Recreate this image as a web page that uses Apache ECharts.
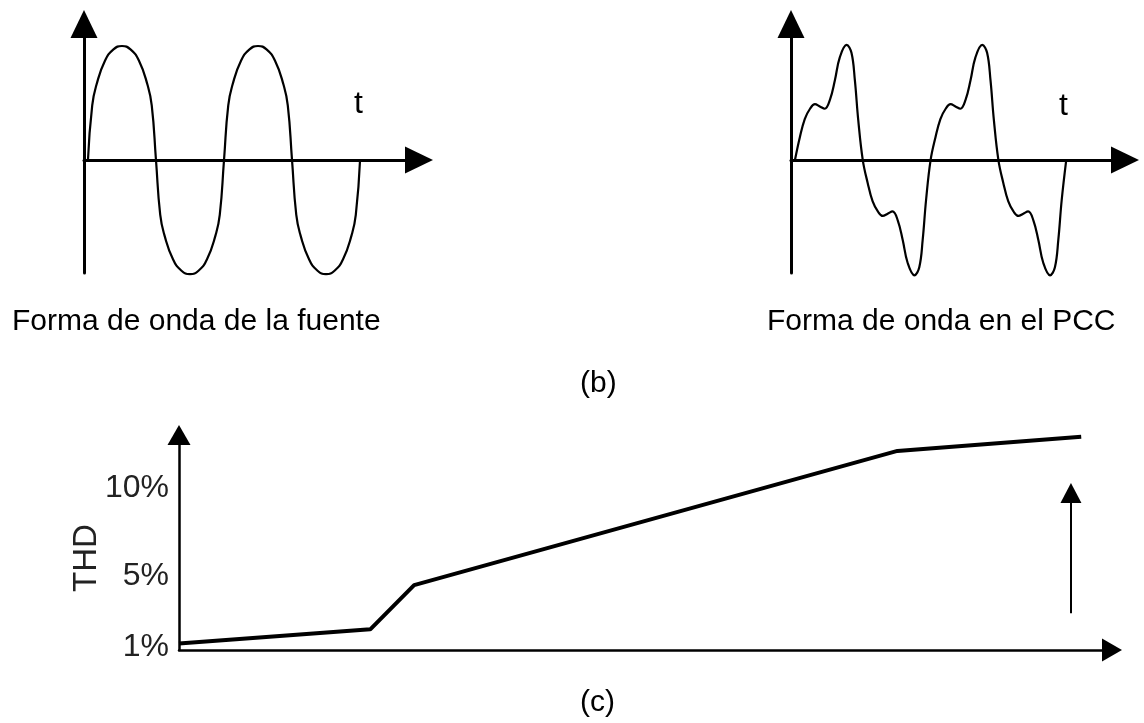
<!DOCTYPE html>
<html>
<head>
<meta charset="utf-8">
<title>Forma de onda y THD</title>
<script src="https://cdn.jsdelivr.net/npm/echarts@6/dist/echarts.min.js"></script>
<style>
  html, body { margin: 0; padding: 0; background: #fff; }
  #chart { width: 1144px; height: 723px; }
</style>
</head>
<body>
<div id="chart"></div>
<script>
// source waveform (deg, per-unit amplitude) - rounded lobes as drawn
const sineDeg = [0, 11.25, 22.5, 45, 67.5, 90, 112.5, 135, 157.5, 168.75,
  180, 191.25, 202.5, 225, 247.5, 270, 292.5, 315, 337.5, 348.75,
  360, 371.25, 382.5, 405, 427.5, 450, 472.5, 495, 517.5, 528.75,
  540, 551.25, 562.5, 585, 607.5, 630, 652.5, 675, 697.5, 708.75, 720];
const sineVal = [0, 0.48, 0.66, 0.87, 0.97, 1, 0.97, 0.87, 0.66, 0.48,
  0, -0.48, -0.66, -0.87, -0.97, -1, -0.97, -0.87, -0.66, -0.48,
  0, 0.48, 0.66, 0.87, 0.97, 1, 0.97, 0.87, 0.66, 0.48,
  0, -0.48, -0.66, -0.87, -0.97, -1, -0.97, -0.87, -0.66, -0.48, 0];

// distorted waveform at the PCC
const pccDeg = [0, 13, 26, 40, 53, 66, 79, 93, 106, 119, 137, 150, 159, 168,
  180, 193, 206, 220, 233, 246, 259, 273, 286, 299, 317, 330, 339, 348,
  360, 373, 386, 400, 413, 426, 439, 453, 466, 479, 497, 510, 519, 528,
  540, 553, 566, 580, 593, 606, 619, 633, 646, 659, 677, 690, 699, 708, 720];
const pccVal = [0, 0.20, 0.36, 0.45, 0.49, 0.47, 0.45, 0.53, 0.70, 0.90, 1.01, 0.94, 0.70, 0.35,
  0, -0.20, -0.36, -0.45, -0.49, -0.47, -0.45, -0.53, -0.70, -0.90, -1.01, -0.94, -0.70, -0.35,
  0, 0.20, 0.36, 0.45, 0.49, 0.47, 0.45, 0.53, 0.70, 0.90, 1.01, 0.94, 0.70, 0.35,
  0, -0.20, -0.36, -0.45, -0.49, -0.47, -0.45, -0.53, -0.70, -0.90, -1.01, -0.94, -0.70, -0.35, 0];

// THD curve (c)
const thdX = [0, 20.5, 25.2, 77, 96.7];
const thdVal = [1.2, 2.0, 4.5, 12.1, 12.9];
const thdTicks = [1, 5, 10];
const riseArrowX = 95.6;
const riseArrowFrom = 2.91;
const riseArrowTo = 9.72;

const FONT = "'Liberation Sans', Arial, sans-serif";

function zip(xs, ys) {
  return xs.map((x, i) => [x, ys[i]]);
}

function waveAxes(gridIndex) {
  const line = {
    show: true,
    symbol: ["none", "triangle"],
    symbolSize: [27, 28],
    lineStyle: { color: "#000", width: 3 }
  };
  return {
    x: {
      type: "value", gridIndex, min: -10.5, max: 876,
      axisLine: Object.assign({ onZero: true }, line),
      axisTick: { show: false }, axisLabel: { show: false }, splitLine: { show: false }
    },
    y: {
      type: "value", gridIndex, min: -0.99, max: 1.193,
      axisLine: Object.assign({ onZero: false }, line),
      axisTick: { show: false }, axisLabel: { show: false }, splitLine: { show: false }
    }
  };
}

function label(text, left, top, size) {
  return {
    text, left, top, padding: 0,
    textStyle: { fontFamily: FONT, fontSize: size || 30, fontWeight: "normal", color: "#000" }
  };
}

const chart = echarts.init(document.getElementById("chart"), null, { renderer: "canvas" });
const a0 = waveAxes(0), a1 = waveAxes(1);

const option = {
  backgroundColor: "#fff",
  animation: false,
  title: [
    label("t", 354, 88, 32),
    label("t", 1059, 90, 32),
    label("Forma de onda de la fuente", 12, 307),
    label("Forma de onda en el PCC", 767, 307),
    label("(b)", 580, 369),
    label("(c)", 580, 688)
  ],
  grid: [
    { left: 84, top: 24, width: 335, height: 249 },
    { left: 791, top: 24, width: 334, height: 249 },
    { left: 179, top: 435, width: 933, height: 215 }
  ],
  xAxis: [
    a0.x, a1.x,
    {
      type: "value", gridIndex: 2, min: 0, max: 100,
      axisLine: { show: true, onZero: false, symbol: ["none", "triangle"], symbolSize: [23, 20],
        lineStyle: { color: "#000", width: 2.5 } },
      axisTick: { show: false }, axisLabel: { show: false }, splitLine: { show: false }
    }
  ],
  yAxis: [
    a0.y, a1.y,
    {
      type: "value", gridIndex: 2, min: 0.83, max: 13.0,
      name: "THD", nameLocation: "middle", nameRotate: 90, nameGap: 76,
      nameMoveOverlap: false,
      nameTextStyle: { fontFamily: FONT, fontSize: 33, color: "#222", padding: [0, 31, 0, 0] },
      axisLine: { show: true, onZero: false, symbol: ["none", "triangle"], symbolSize: [23, 20],
        lineStyle: { color: "#000", width: 2.5 } },
      axisTick: { show: false },
      axisLabel: {
        customValues: thdTicks, margin: 10,
        formatter: "{value}%",
        fontFamily: FONT, fontSize: 32, color: "#222"
      },
      splitLine: { show: false }
    }
  ],
  series: [
    {
      type: "line", xAxisIndex: 0, yAxisIndex: 0, clip: false,
      data: zip(sineDeg, sineVal), smooth: 0.5, showSymbol: false,
      lineStyle: { color: "#000", width: 2.2 }
    },
    {
      type: "line", xAxisIndex: 1, yAxisIndex: 1, clip: false,
      data: zip(pccDeg, pccVal), smooth: 0.4, showSymbol: false,
      lineStyle: { color: "#000", width: 2.2 }
    },
    {
      type: "line", xAxisIndex: 2, yAxisIndex: 2,
      data: zip(thdX, thdVal), showSymbol: false,
      lineStyle: { color: "#000", width: 4 },
      markLine: {
        silent: true,
        symbol: ["none", "triangle"],
        symbolSize: [21, 20],
        label: { show: false },
        lineStyle: { color: "#000", width: 2, type: "solid" },
        data: [[{ coord: [riseArrowX, riseArrowFrom] }, { coord: [riseArrowX, riseArrowTo] }]]
      }
    }
  ]
};

chart.setOption(option);
</script>
</body>
</html>
